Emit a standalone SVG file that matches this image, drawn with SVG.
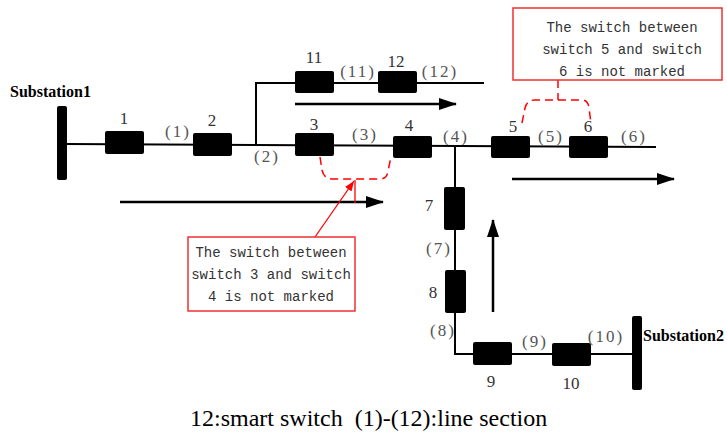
<svg xmlns="http://www.w3.org/2000/svg" width="727" height="432" viewBox="0 0 727 432">
<style>
.ln{stroke:#000;stroke-width:2;fill:none}
.sw{fill:#000}
.bar{fill:#000}
.num{font-family:"Liberation Serif",serif;font-size:17px;fill:#333;text-anchor:middle}
.sec{font-family:"Liberation Serif",serif;font-size:17px;fill:#555;text-anchor:middle;letter-spacing:2px}
.sub{font-family:"Liberation Serif",serif;font-size:16px;font-weight:bold;fill:#000}
.note{font-family:"Liberation Mono",monospace;font-size:14px;fill:#333;text-anchor:middle}
.box{fill:#fff;stroke:#f03030;stroke-width:1.5}
.dash{fill:none;stroke:#f00;stroke-width:1.5;stroke-dasharray:8 5}
.red{fill:none;stroke:#f00;stroke-width:1.3}
.flow{stroke:#000;stroke-width:2.5;fill:none;marker-end:url(#ah)}
.cap{font-family:"Liberation Serif",serif;font-size:24px;fill:#000}
</style>
<defs>
<marker id="ah" markerUnits="userSpaceOnUse" markerWidth="18" markerHeight="12" refX="17" refY="6" orient="auto">
<path d="M0,0 L18,6 L0,12 Z" fill="#000"/>
</marker>
<marker id="rh" markerUnits="userSpaceOnUse" markerWidth="10" markerHeight="8" refX="10" refY="4" orient="auto">
<path d="M0,0 L10,4 L0,8 Z" fill="#f00"/>
</marker>
</defs>

<g id="connectors">
<path class="ln" d="M67,144 L656,147"/>
<path class="ln" d="M256,146 L256,83 L484,83"/>
<path class="ln" d="M455,147 L455,354 L632,354"/>
<path class="flow" d="M120,202 L383,202"/>
<path class="flow" d="M295,104 L456,104"/>
<path class="flow" d="M512,179 L674,179"/>
<path class="flow" d="M493,312 L493,220"/>
</g>

<g id="substation1">
<rect class="bar" x="57" y="106" width="10" height="74" rx="2"/>
<text class="sub" x="10" y="97">Substation1</text>
</g>
<g id="substation2">
<rect class="bar" x="632" y="316" width="10" height="74" rx="2"/>
<text class="sub" x="643" y="341">Substation2</text>
</g>

<g id="sw1"><rect class="sw" x="105" y="131" width="39" height="23" rx="2"/><text class="num" x="124" y="124">1</text></g>
<g id="sw2"><rect class="sw" x="193" y="133" width="39" height="23" rx="2"/><text class="num" x="212" y="126">2</text></g>
<g id="sw3"><rect class="sw" x="295" y="133" width="39" height="23" rx="2"/><text class="num" x="314" y="130">3</text></g>
<g id="sw4"><rect class="sw" x="393" y="136" width="39" height="22" rx="2"/><text class="num" x="409" y="131">4</text></g>
<g id="sw5"><rect class="sw" x="491" y="136" width="39" height="22" rx="2"/><text class="num" x="513" y="132">5</text></g>
<g id="sw6"><rect class="sw" x="569" y="136" width="39" height="22" rx="2"/><text class="num" x="588" y="132">6</text></g>
<g id="sw7"><rect class="sw" x="444" y="187" width="21" height="43" rx="2"/><text class="num" x="429" y="211">7</text></g>
<g id="sw8"><rect class="sw" x="445" y="270" width="21" height="43" rx="2"/><text class="num" x="433" y="298">8</text></g>
<g id="sw9"><rect class="sw" x="473" y="342" width="39" height="23" rx="2"/><text class="num" x="491" y="387">9</text></g>
<g id="sw10"><rect class="sw" x="552" y="343" width="39" height="23" rx="2"/><text class="num" x="571" y="389">10</text></g>
<g id="sw11"><rect class="sw" x="295" y="71" width="39" height="22" rx="2"/><text class="num" x="314" y="63">11</text></g>
<g id="sw12"><rect class="sw" x="378" y="71" width="39" height="22" rx="2"/><text class="num" x="396" y="67">12</text></g>

<g id="sections">
<text class="sec" x="178" y="137">(1)</text>
<text class="sec" x="267" y="162">(2)</text>
<text class="sec" x="365" y="140">(3)</text>
<text class="sec" x="456" y="142">(4)</text>
<text class="sec" x="551" y="142">(5)</text>
<text class="sec" x="634" y="142">(6)</text>
<text class="sec" x="439" y="254">(7)</text>
<text class="sec" x="443" y="336">(8)</text>
<text class="sec" x="535" y="347">(9)</text>
<text class="sec" x="606" y="342">(10)</text>
<text class="sec" x="358" y="77">(11)</text>
<text class="sec" x="440" y="77">(12)</text>
</g>

<g id="note1">
<path class="dash" d="M320,157 L322,170 Q324,179 332,179 L380,179 Q387,179 388,171 L391,157"/>
<path class="red" d="M355,180 L355,203"/>
<path class="red" d="M315,237 L354,181" marker-end="url(#rh)"/>
<rect class="box" x="188" y="237" width="167" height="74"/>
<text class="note" x="271" y="257">The switch between</text>
<text class="note" x="271" y="279">switch 3 and switch</text>
<text class="note" x="271" y="301">4 is not marked</text>
</g>

<g id="note2">
<path class="dash" d="M558,80 L558,100"/>
<path class="dash" d="M522,123 L525,108 Q527,100 535,100 L582,100 Q588,100 589,108 L591,123"/>
<rect class="box" x="513" y="8" width="209" height="72"/>
<text class="note" x="622" y="32">The switch between</text>
<text class="note" x="622" y="54">switch 5 and switch</text>
<text class="note" x="622" y="76">6 is not marked</text>
</g>

<text class="cap" x="190" y="426" xml:space="preserve">12:smart switch  (1)-(12):line section</text>
</svg>
